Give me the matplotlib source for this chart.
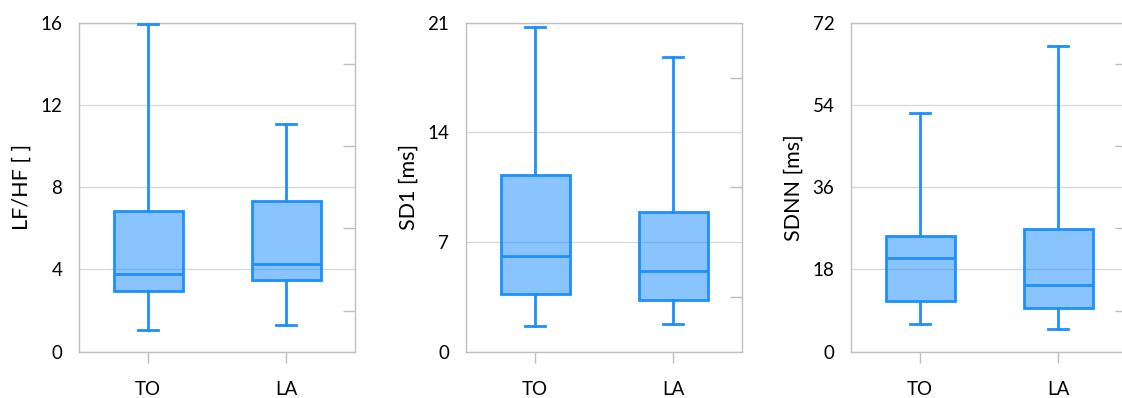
import matplotlib
matplotlib.use("Agg")
import matplotlib.pyplot as plt
from matplotlib.ticker import MultipleLocator
from matplotlib.colors import to_rgba

plt.rcParams['font.family'] = ['Lato', 'DejaVu Sans']

categories = ["TO", "LA"]

# LF/HF
lfhf_whislo = [1.07, 1.31]
lfhf_q1 = [2.97, 3.51]
lfhf_med = [3.76, 4.26]
lfhf_q3 = [6.82, 7.32]
lfhf_whishi = [15.95, 11.09]

# SD1
sd1_whislo = [1.66, 1.79]
sd1_q1 = [3.68, 3.30]
sd1_med = [6.09, 5.17]
sd1_q3 = [11.30, 8.91]
sd1_whishi = [20.70, 18.79]

# SDNN
sdnn_whislo = [6.06, 5.0]
sdnn_q1 = [11.0, 9.5]
sdnn_med = [20.4, 14.6]
sdnn_q3 = [25.3, 26.8]
sdnn_whishi = [52.2, 66.8]

ylabels = ["LF/HF [ ]", "SD1 [ms]", "SDNN [ms]"]
ymax = [16, 21, 72]
major_step = [4, 7, 18]

panels = [
    (lfhf_whislo, lfhf_q1, lfhf_med, lfhf_q3, lfhf_whishi),
    (sd1_whislo, sd1_q1, sd1_med, sd1_q3, sd1_whishi),
    (sdnn_whislo, sdnn_q1, sdnn_med, sdnn_q3, sdnn_whishi),
]

W, H = 1122, 398
fig = plt.figure(figsize=(W / 100, H / 100), dpi=100)

lefts = [79, 466, 851]
ax_w = 276
ax_bottom = 351.7
ax_top = 22.7

edge = "#1E8FFF"
fill = to_rgba(edge, 0.52)
spine_c = "#BFBFBF"
grid_c = "#D9D9D9"
lw = 2.0

for i, (lo, q1, med, q3, hi) in enumerate(panels):
    ax = fig.add_axes([lefts[i] / W, (H - ax_bottom) / H, ax_w / W, (ax_bottom - ax_top) / H])
    stats = []
    for j, cat in enumerate(categories):
        stats.append(dict(label=cat, whislo=lo[j], q1=q1[j], med=med[j], q3=q3[j], whishi=hi[j], fliers=[]))
    ax.bxp(stats, positions=[1, 2], widths=0.5, capwidths=0.145, patch_artist=True, showfliers=False,
           boxprops=dict(facecolor=fill, edgecolor=edge, linewidth=lw),
           medianprops=dict(color=edge, linewidth=lw),
           whiskerprops=dict(color=edge, linewidth=lw),
           capprops=dict(color=edge, linewidth=lw), zorder=3)
    ax.set_xlim(0.5, 2.5)
    ax.set_ylim(0, ymax[i])
    ax.yaxis.set_major_locator(MultipleLocator(major_step[i]))
    ax.yaxis.set_minor_locator(MultipleLocator(major_step[i] / 2))
    ax.grid(axis='y', which='major', color=grid_c, linewidth=1.0, zorder=0)
    ax.set_axisbelow(True)
    for s in ax.spines.values():
        s.set_color(spine_c)
        s.set_linewidth(1.0)
    ax.tick_params(axis='y', which='major', length=0, pad=12, labelsize=13.5, labelcolor='black')
    ax.tick_params(axis='y', which='minor', left=False, right=True, direction='in', length=8.5,
                   width=1.0, color=spine_c)
    ax.tick_params(axis='x', which='major', direction='out', length=8, width=1.0, color=spine_c,
                   pad=13, labelsize=13.5, labelcolor='black')
    ax.set_xticks([1, 2])
    ax.set_xticklabels(categories)
    ax.set_ylabel(ylabels[i], fontsize=15.5)
    ax.yaxis.set_label_coords(-47 / ax_w, 0.5)

fig.savefig("out.png", dpi=100)
